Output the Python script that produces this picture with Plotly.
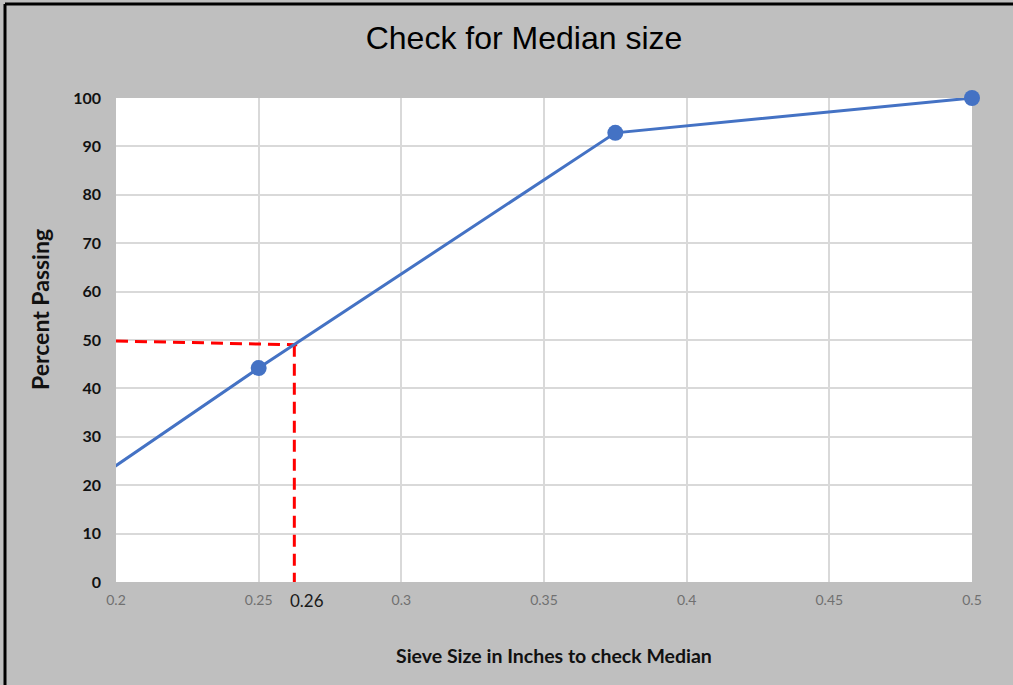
import plotly.graph_objects as go

# Data
sieve_sizes = [0.187, 0.25, 0.375, 0.5]
percent_passing = [18.8, 44.2, 92.8, 100]

median_h_x = [0.2, 0.2635]
median_h_y = [49.8, 49.0]
median_v_x = [0.2625, 0.2625]
median_v_y = [49.0, 0]
median_label = "0.26"
median_label_x = 0.2668

x_range = [0.2, 0.5]
x_ticks = [0.2, 0.25, 0.3, 0.35, 0.4, 0.45, 0.5]
x_tick_text = ["0.2", "0.25", "0.3", "0.35", "0.4", "0.45", "0.5"]
y_ticks = [0, 10, 20, 30, 40, 50, 60, 70, 80, 90, 100]

W, H = 1013, 685
L, R, T, B = 116, 41, 98, 103
pw, ph = W - L - R, H - T - B

def px(xp):
    return (xp - L) / pw

def py(yp):
    return (H - B - yp) / ph

fig = go.Figure()

fig.add_trace(go.Scatter(
    x=median_h_x, y=median_h_y, mode="lines",
    line=dict(color="#ff0000", width=3, dash="12px,7px"),
    hoverinfo="skip", showlegend=False))
fig.add_trace(go.Scatter(
    x=median_v_x, y=median_v_y, mode="lines",
    line=dict(color="#ff0000", width=3, dash="12px,7px"),
    hoverinfo="skip", showlegend=False))

# Line (clipped to the plot area)
fig.add_trace(go.Scatter(
    x=sieve_sizes, y=percent_passing, mode="lines",
    line=dict(color="#4472C4", width=3),
    hoverinfo="skip", showlegend=False))

# Markers for points inside the x range (not clipped at the edges)
vis = [(x, y) for x, y in zip(sieve_sizes, percent_passing) if x_range[0] <= x <= x_range[1]]
fig.add_trace(go.Scatter(
    x=[v[0] for v in vis], y=[v[1] for v in vis], mode="markers",
    marker=dict(color="#4472C4", size=16),
    cliponaxis=False, showlegend=False))

fig.update_layout(
    width=W, height=H,
    margin=dict(l=L, r=R, t=T, b=B),
    paper_bgcolor="#bfbfbf",
    plot_bgcolor="#ffffff",
    showlegend=False,
    title=dict(text="Check for Median size", x=524 / W, xref="container", xanchor="center",
               y=1 - 38 / H, yanchor="middle",
               font=dict(family="Liberation Sans, Arial", size=32, color="#000000")),
)

fig.update_xaxes(
    range=x_range, tickvals=x_ticks, ticktext=x_tick_text,
    showgrid=True, gridcolor="#d9d9d9", gridwidth=2,
    zeroline=False, showline=False, ticks="",
    tickfont=dict(family="Lato, Open Sans", size=14, color="#707070"),
    ticklabelstandoff=8,
)
fig.update_yaxes(
    range=[0, 100], tickvals=y_ticks,
    showgrid=True, gridcolor="#d9d9d9", gridwidth=2,
    zeroline=False, showline=False, ticks="",
    tickfont=dict(family="Lato, Open Sans", size=16, color="#111111", weight="bold"),
    ticklabelstandoff=14,
)

annotations = [
    dict(text=median_label, x=median_label_x, xref="x", y=py(600), yref="paper",
         showarrow=False, xanchor="center", yanchor="middle",
         font=dict(family="Lato, Open Sans", size=17, color="#1a1a1a")),
    dict(text="<b>Sieve Size in Inches to check Median</b>", x=px(554), xref="paper",
         y=py(655), yref="paper", showarrow=False, xanchor="center", yanchor="middle",
         font=dict(family="Lato, Open Sans", size=19.5, color="#111111")),
    dict(text="<b>Percent Passing</b>", x=px(40), xref="paper",
         y=py(310), yref="paper", showarrow=False, xanchor="center", yanchor="middle",
         textangle=-90,
         font=dict(family="Lato, Open Sans", size=23, color="#111111")),
]
fig.update_layout(annotations=annotations)

# Outer frame lines
fig.add_shape(type="line", xref="paper", yref="paper",
              x0=px(5), x1=px(1013), y0=py(4), y1=py(4),
              line=dict(color="#000000", width=3))
fig.add_shape(type="line", xref="paper", yref="paper",
              x0=px(5), x1=px(5), y0=py(4), y1=py(685),
              line=dict(color="#000000", width=3))

fig.write_html("out.html", config={"displayModeBar": False},
               post_script="document.body.style.margin='0px';document.body.style.overflow='hidden';")
